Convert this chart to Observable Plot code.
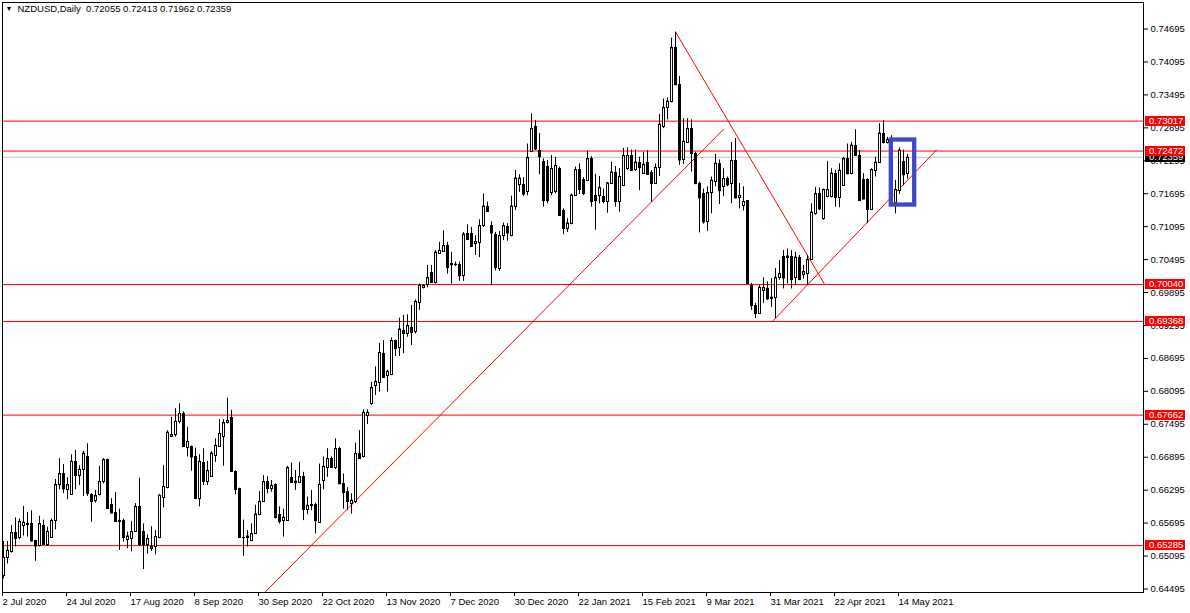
<!DOCTYPE html>
<html><head><meta charset="utf-8">
<script src="https://cdn.jsdelivr.net/npm/d3@7"></script>
<script src="https://cdn.jsdelivr.net/npm/@observablehq/plot@0.6"></script>
<style>
html,body{margin:0;padding:0;background:#fff;}
#chart{width:1190px;height:613px;overflow:hidden}
svg{display:block}
</style></head><body><div id="chart"></div>
<script>
// Daily NZDUSD candles, 2 Jul 2020 (index 0) .. 18 May 2021 (index 226)
const open = [
0.6474,0.6506,0.6518,0.6552,0.6543,0.6566,0.6568,0.6568,0.6537,0.6528,
0.6566,0.6531,0.6544,0.6574,0.6639,0.6659,0.6631,0.6622,0.6682,0.6657,
0.6667,0.6691,0.6621,0.6610,0.6621,0.6645,0.6685,0.6603,0.6588,0.6575,
0.6574,0.6540,0.6542,0.6555,0.6600,0.6554,0.6531,0.6524,0.6526,0.6543,
0.6616,0.6635,0.6727,0.6730,0.6755,0.6770,0.6708,0.6709,0.6690,0.6614,
0.6679,0.6646,0.6654,0.6693,0.6709,0.6728,0.6752,0.6762,0.6664,0.6632,
0.6544,0.6543,0.6538,0.6550,0.6585,0.6609,0.6645,0.6632,0.6639,0.6585,
0.6575,0.6575,0.6652,0.6644,0.6644,0.6654,0.6594,0.6602,0.6603,0.6571,
0.6648,0.6671,0.6687,0.6670,0.6705,0.6641,0.6627,0.6605,0.6608,0.6696,
0.6690,0.6766,0.6787,0.6820,0.6826,0.6878,0.6838,0.6840,0.6902,0.6889,
0.6921,0.6915,0.6926,0.6918,0.6972,0.6999,0.7005,0.7026,0.7008,0.7061,
0.7065,0.7075,0.7042,0.7040,0.7040,0.7020,0.7097,0.7097,0.7078,0.7081,
0.7111,0.7147,0.7111,0.7096,0.7034,0.7093,0.7110,0.7093,0.7147,0.7187,
0.7187,0.7174,0.7247,0.7292,0.7249,0.7228,0.7219,0.7172,0.7174,0.7216,
0.7139,0.7107,0.7115,0.7167,0.7213,0.7196,0.7194,0.7233,0.7167,0.7167,
0.7164,0.7155,0.7189,0.7209,0.7156,0.7185,0.7215,0.7239,0.7213,0.7226,
0.7207,0.7226,0.7208,0.7189,0.7217,0.7292,0.7326,0.7338,0.7435,0.7368,
0.7231,0.7263,0.7288,0.7243,0.7188,0.7169,0.7118,0.7171,0.7191,0.7225,
0.7182,0.7198,0.7188,0.7230,0.7162,0.7148,0.7157,0.7002,0.6966,0.6951,
0.6993,0.6996,0.6978,0.6981,0.7016,0.7056,0.7053,0.7056,0.7017,0.7054,
0.7022,0.7025,0.7049,0.7133,0.7169,0.7124,0.7164,0.7164,0.7207,0.7163,
0.7184,0.7233,0.7206,0.7258,0.7240,0.7195,0.7195,0.7141,0.7212,0.7227,
0.7280,0.7262,0.7268,0.7154,0.7175,0.7229,0.72055];
const high = [
0.6536,0.6536,0.6565,0.6579,0.6577,0.6600,0.6589,0.6592,0.6538,0.6582,
0.6575,0.6562,0.6577,0.6649,0.6687,0.6676,0.6652,0.6694,0.6702,0.6674,
0.6700,0.6714,0.6623,0.6629,0.6673,0.6687,0.6686,0.6614,0.6625,0.6595,
0.6577,0.6553,0.6572,0.6605,0.6651,0.6568,0.6548,0.6563,0.6556,0.6622,
0.6674,0.6738,0.6762,0.6778,0.6787,0.6772,0.6744,0.6710,0.6706,0.6694,
0.6705,0.6682,0.6700,0.6723,0.6758,0.6758,0.6797,0.6775,0.6665,0.6633,
0.6575,0.6556,0.6568,0.6602,0.6627,0.6656,0.6654,0.6647,0.6641,0.6599,
0.6595,0.6673,0.6679,0.6665,0.6680,0.6662,0.6617,0.6629,0.6606,0.6677,
0.6690,0.6705,0.6690,0.6723,0.6708,0.6659,0.6634,0.6623,0.6715,0.6738,
0.6776,0.6776,0.6826,0.6854,0.6897,0.6902,0.6848,0.6907,0.6903,0.6943,
0.6948,0.6949,0.6966,0.6976,0.7005,0.7004,0.7039,0.7039,0.7066,0.7081,
0.7102,0.7081,0.7063,0.7045,0.7045,0.7099,0.7113,0.7108,0.7093,0.7122,
0.7169,0.7154,0.7118,0.7099,0.7101,0.7116,0.7115,0.7165,0.7212,0.7204,
0.7199,0.7260,0.7315,0.7303,0.7279,0.7233,0.7230,0.7239,0.7236,0.7218,
0.7142,0.7124,0.7169,0.7218,0.7224,0.7199,0.7247,0.7237,0.7205,0.7201,
0.7178,0.7190,0.7227,0.7219,0.7215,0.7252,0.7253,0.7249,0.7249,0.7236,
0.7245,0.7248,0.7212,0.7224,0.7314,0.7342,0.7344,0.7453,0.7464,0.7383,
0.7306,0.7306,0.7304,0.7245,0.7191,0.7178,0.7182,0.7200,0.7241,0.7231,
0.7215,0.7200,0.7263,0.7270,0.7188,0.7182,0.7157,0.7006,0.6970,0.7002,
0.7016,0.7009,0.7015,0.7033,0.7048,0.7066,0.7069,0.7066,0.7063,0.7057,
0.7039,0.7057,0.7151,0.7181,0.7180,0.7178,0.7228,0.7215,0.7212,0.7224,
0.7236,0.7260,0.7263,0.7286,0.7248,0.7206,0.7197,0.7215,0.7236,0.7297,
0.7303,0.7272,0.7275,0.7194,0.7253,0.7249,0.72413];
const low = [
0.6468,0.6495,0.6515,0.6526,0.6539,0.6546,0.6544,0.6535,0.6500,0.6526,
0.6529,0.6527,0.6543,0.6557,0.6630,0.6623,0.6612,0.6620,0.6630,0.6638,
0.6618,0.6618,0.6571,0.6606,0.6619,0.6641,0.6595,0.6586,0.6572,0.6520,
0.6535,0.6523,0.6517,0.6553,0.6527,0.6485,0.6513,0.6518,0.6512,0.6541,
0.6597,0.6632,0.6726,0.6726,0.6750,0.6708,0.6690,0.6664,0.6614,0.6599,
0.6638,0.6638,0.6653,0.6680,0.6708,0.6673,0.6750,0.6664,0.6621,0.6543,
0.6509,0.6526,0.6537,0.6549,0.6583,0.6608,0.6623,0.6626,0.6577,0.6568,
0.6544,0.6574,0.6642,0.6629,0.6642,0.6574,0.6585,0.6592,0.6550,0.6571,
0.6630,0.6653,0.6669,0.6667,0.6641,0.6595,0.6592,0.6586,0.6605,0.6687,
0.6688,0.6749,0.6784,0.6802,0.6808,0.6834,0.6808,0.6838,0.6873,0.6873,
0.6878,0.6908,0.6893,0.6914,0.6957,0.6996,0.6998,0.7006,0.7005,0.7060,
0.7063,0.7023,0.7005,0.7037,0.7010,0.7010,0.7085,0.7072,0.7057,0.7053,
0.7108,0.7136,0.7002,0.7029,0.7028,0.7084,0.7083,0.7091,0.7139,0.7172,
0.7164,0.7166,0.7245,0.7248,0.7204,0.7145,0.7151,0.7166,0.7169,0.7128,
0.7095,0.7099,0.7113,0.7166,0.7168,0.7166,0.7193,0.7145,0.7103,0.7151,
0.7151,0.7134,0.7187,0.7145,0.7136,0.7184,0.7212,0.7210,0.7210,0.7175,
0.7205,0.7203,0.7154,0.7188,0.7201,0.7288,0.7304,0.7335,0.7368,0.7221,
0.7223,0.7262,0.7209,0.7186,0.7098,0.7114,0.7101,0.7133,0.7182,0.7150,
0.7164,0.7182,0.7151,0.7160,0.7142,0.7138,0.7004,0.6957,0.6942,0.6950,
0.6970,0.6975,0.6962,0.6942,0.7012,0.6996,0.7005,0.6996,0.7002,0.7011,
0.7014,0.7002,0.7048,0.7130,0.7139,0.7121,0.7163,0.7162,0.7145,0.7144,
0.7183,0.7204,0.7204,0.7239,0.7156,0.7158,0.7115,0.7139,0.7200,0.7225,
0.7260,0.7260,0.7155,0.7133,0.7168,0.7184,0.71962];
const close = [
0.6507,0.6520,0.6552,0.6542,0.6572,0.6571,0.6567,0.6537,0.6528,0.6568,
0.6531,0.6554,0.6574,0.6639,0.6659,0.6632,0.6639,0.6682,0.6657,0.6667,
0.6697,0.6624,0.6609,0.6619,0.6645,0.6685,0.6597,0.6588,0.6573,0.6573,
0.6544,0.6546,0.6554,0.6600,0.6531,0.6530,0.6541,0.6526,0.6545,0.6620,
0.6636,0.6735,0.6730,0.6755,0.6769,0.6709,0.6718,0.6690,0.6615,0.6682,
0.6646,0.6665,0.6697,0.6711,0.6733,0.6752,0.6756,0.6664,0.6631,0.6544,
0.6543,0.6546,0.6550,0.6586,0.6609,0.6645,0.6633,0.6638,0.6580,0.6573,
0.6580,0.6670,0.6644,0.6646,0.6654,0.6595,0.6602,0.6603,0.6574,0.6640,
0.6673,0.6687,0.6671,0.6705,0.6641,0.6626,0.6609,0.6611,0.6696,0.6688,
0.6771,0.6771,0.6816,0.6827,0.6880,0.6835,0.6846,0.6902,0.6888,0.6923,
0.6915,0.6929,0.6917,0.6973,0.7002,0.7002,0.7016,0.7008,0.7063,0.7066,
0.7075,0.7036,0.7040,0.7041,0.7020,0.7096,0.7087,0.7074,0.7082,0.7111,
0.7147,0.7137,0.7098,0.7036,0.7093,0.7111,0.7098,0.7147,0.7198,0.7198,
0.7169,0.7235,0.7288,0.7251,0.7237,0.7158,0.7157,0.7215,0.7221,0.7130,
0.7107,0.7116,0.7167,0.7213,0.7178,0.7170,0.7233,0.7156,0.7157,0.7180,
0.7156,0.7189,0.7209,0.7156,0.7201,0.7239,0.7239,0.7212,0.7227,0.7218,
0.7223,0.7205,0.7188,0.7217,0.7296,0.7326,0.7338,0.7435,0.7368,0.7231,
0.7265,0.7288,0.7243,0.7188,0.7162,0.7118,0.7171,0.7194,0.7225,0.7175,
0.7197,0.7186,0.7230,0.7162,0.7166,0.7155,0.7006,0.6966,0.6952,0.6999,
0.6998,0.6978,0.6981,0.7016,0.7024,0.7016,0.7056,0.7014,0.7054,0.7014,
0.7027,0.7049,0.7136,0.7169,0.7142,0.7177,0.7177,0.7207,0.7163,0.7212,
0.7233,0.7206,0.7258,0.7240,0.7157,0.7160,0.7141,0.7213,0.7227,0.7280,
0.7263,0.7268,0.7160,0.7177,0.7249,0.7204,0.72359];

const dateTicks = [0,16,32,48,64,80,96,112,128,144,160,176,192,208,224];
const dateLabels = ["2 Jul 2020","24 Jul 2020","17 Aug 2020","8 Sep 2020","30 Sep 2020",
  "22 Oct 2020","13 Nov 2020","7 Dec 2020","30 Dec 2020","22 Jan 2021","15 Feb 2021",
  "9 Mar 2021","31 Mar 2021","22 Apr 2021","14 May 2021"];
const priceTicks = [0.74695,0.74095,0.73495,0.72895,0.72295,0.71695,0.71095,0.70495,
  0.69895,0.69295,0.68695,0.68095,0.67495,0.66895,0.66295,0.65695,0.65095,0.64495];
const levels = [0.73017,0.72472,0.70040,0.69368,0.67662,0.65285];
const lastPrice = 0.72359;
// trend lines: bar index / price anchors
const trendStartIdx = [65.3, 168.05, 192.05];
const trendStartPx  = [0.64431, 0.74637, 0.69354];
const trendEndIdx   = [180.1, 205.2, 233.3];
const trendEndPx    = [0.72877, 0.70054, 0.72495];
// highlight box
const boxIdx = [221.95, 227.8];
const boxPx = [0.72673, 0.71489];
const header = "NZDUSD,Daily  0.72055 0.72413 0.71962 0.72359";

const FONT = "'Liberation Sans', Arial, sans-serif";
const candles = open.map((o, i) => ({i, o, h: high[i], l: low[i], c: close[i], up: close[i] >= o}));
const trends = trendStartIdx.map((d, k) => ({x1: d, y1: trendStartPx[k], x2: trendEndIdx[k], y2: trendEndPx[k]}));
const box = [{x1: boxIdx[0], x2: boxIdx[1], y1: boxPx[0], y2: boxPx[1]}];

const plot = Plot.plot({
  width: 1190, height: 613,
  marginLeft: 2, marginRight: 47, marginTop: 2, marginBottom: 21,
  style: {fontFamily: FONT, fontSize: "9.5px", background: "white", color: "black"},
  x: {domain: [-0.25, 285], axis: null},
  y: {domain: [0.64431, 0.75178], axis: null},
  marks: [
    Plot.ruleY(levels, {stroke: "#ff0000", strokeWidth: 1}),
    Plot.ruleY([lastPrice], {stroke: "#c0c0c0", strokeWidth: 1}),
    Plot.link(trends, {x1: "x1", y1: "y1", x2: "x2", y2: "y2", stroke: "#ff0000", strokeWidth: 1}),
    Plot.ruleX(candles, {x: "i", y1: "l", y2: "h", stroke: "black", strokeWidth: 1}),
    Plot.rect(candles, {x1: d => d.i - 0.25, x2: d => d.i + 0.25, y1: "o", y2: "c", dx: 0.5, dy: 0.5,
      fill: d => d.up ? "white" : "black", stroke: "black", strokeWidth: 1, inset: 0,
      shapeRendering: "crispEdges"}),
    Plot.ruleY(candles, {y: "c", x1: d => d.i - 0.375, x2: d => d.i + 0.375, dx: 0.5, stroke: "black", strokeWidth: 1}),
    Plot.rect(box, {x1: "x1", x2: "x2", y1: "y1", y2: "y2", fill: "none", stroke: "#4147c6", strokeWidth: 4.3, inset: 0}),
    Plot.frame({stroke: "black", strokeWidth: 1}),
    Plot.axisY(priceTicks, {anchor: "right", tickSize: 4, tickPadding: 3, tickFormat: d => d.toFixed(5), label: null, fontSize: 9.5}),
    Plot.axisX(dateTicks, {anchor: "bottom", tickSize: 4, tickPadding: 2, textAnchor: "start", dx: -1,
      tickFormat: d => dateLabels[dateTicks.indexOf(d)], label: null, fontSize: 9.5}),
    Plot.text([header], {frameAnchor: "top-left", dx: 15, dy: 3, fill: "black", fontSize: 9.5}),
    Plot.text(["▼"], {frameAnchor: "top-left", dx: 3, dy: 4, fill: "black", fontSize: 7})
  ]
});

document.getElementById("chart").appendChild(plot);

const ys = plot.scale("y");
const svg = d3.select(plot);
const g = svg.append("g").attr("font-family", FONT).attr("font-size", "9.5px").attr("text-anchor", "start");
function tag(v, color) {
  const y = ys.apply(v);
  g.append("rect").attr("x", 1145).attr("y", Math.round(y) - 5).attr("width", 40).attr("height", 10).attr("fill", color);
  g.append("text").attr("x", 1149).attr("y", Math.round(y)).attr("dy", "0.35em").attr("fill", "white").text(v.toFixed(5));
}
tag(lastPrice, "black");
levels.forEach(v => tag(v, "#ff0000"));
</script>
</body></html>
